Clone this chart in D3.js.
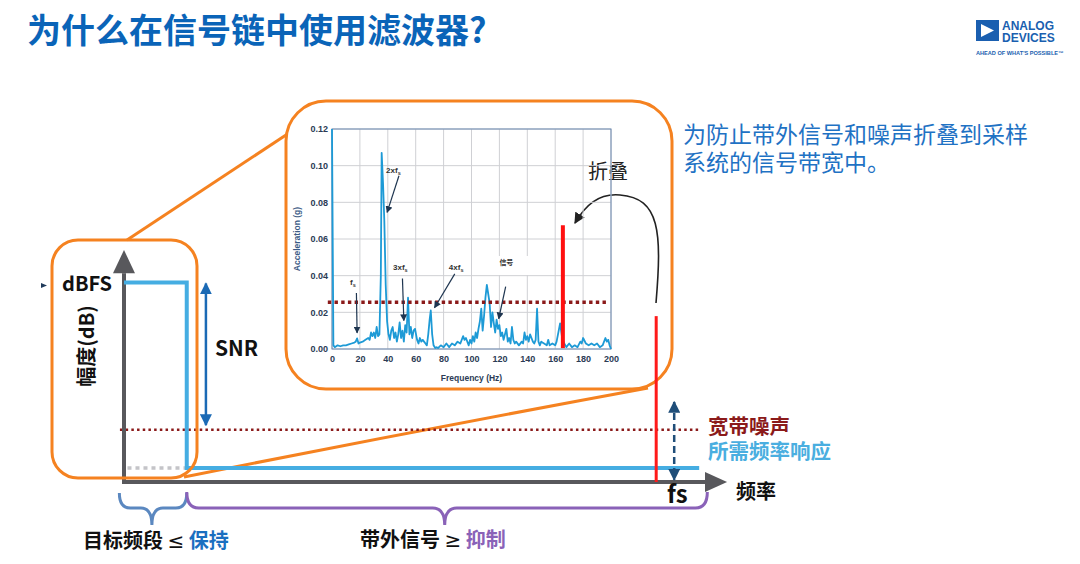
<!DOCTYPE html>
<html>
<head>
<meta charset="utf-8">
<script src="https://cdn.jsdelivr.net/npm/d3@7"></script>
<style>
  body { margin: 0; background: #fff; }
  svg { display: block; font-family: 'Noto Sans CJK SC', 'Noto Sans', sans-serif; }
</style>
</head>
<body>
<script>
// ---- inset spectrum (Acceleration vs Frequency) ----
const freqHz = [
  0, 1, 2, 4, 6, 8, 10, 12, 14, 16,
  17, 18, 19, 20, 22, 24, 26, 27, 28, 29,
  30, 31, 32, 33, 34, 35, 35.6, 36.6, 37.5, 38.5,
  39.5, 40.5, 41.5, 42.5, 43.5, 44.5, 45.5, 46.5, 47.5, 48.5,
  49.5, 50.5, 51.5, 52.5, 53.5, 54.5, 55.5, 56.5, 57.5, 58.5,
  59.5, 61, 62, 63, 64, 65, 66, 67, 68, 69,
  70, 70.8, 71.8, 72.8, 74, 75, 76, 78, 80, 82,
  84, 86, 88, 90, 92, 94, 95, 96, 98, 99,
  100, 101, 102, 103, 104, 105, 106, 107, 108, 109,
  110, 111, 112, 113, 114, 115, 116, 117, 118, 119,
  120, 121, 122, 123, 124, 125, 126, 127, 128, 129,
  130, 131, 132, 134, 136, 137, 138, 139, 140, 141,
  142, 143, 144, 145, 146, 147, 148, 149, 150, 152,
  154, 155, 156, 158, 160, 161, 162, 163.5, 165, 166.5,
  168, 170, 172, 174, 176, 178, 179, 180, 182, 184,
  186, 188, 190, 192, 194, 196, 197, 198, 199, 200
];
const accelG = [
  0.12, 0.002, 0.001, 0.002, 0.0015, 0.002, 0.002, 0.0025, 0.003, 0.0035,
  0.004, 0.0058, 0.003, 0.0035, 0.004, 0.005, 0.006, 0.005, 0.009, 0.007,
  0.009, 0.006, 0.012, 0.007, 0.008, 0.04, 0.107, 0.09, 0.07, 0.035,
  0.015, 0.008, 0.005, 0.01, 0.012, 0.006, 0.009, 0.004, 0.008, 0.0145,
  0.006, 0.01, 0.004, 0.013, 0.009, 0.028, 0.008, 0.012, 0.006, 0.01,
  0.011, 0.005, 0.003, 0.006, 0.004, 0.005, 0.004, 0.003, 0.002, 0.008,
  0.016, 0.021, 0.008, 0.002, 0.0005, 0.001, 0.0005, 0.002, 0.001, 0.003,
  0.001, 0.003, 0.002, 0.004, 0.003, 0.007, 0.005, 0.006, 0.002, 0.005,
  0.003, 0.007, 0.004, 0.009, 0.006, 0.011, 0.015, 0.022, 0.01, 0.018,
  0.028, 0.035, 0.03, 0.025, 0.012, 0.02, 0.014, 0.009, 0.016, 0.011,
  0.013, 0.007, 0.009, 0.005, 0.008, 0.011, 0.004, 0.006, 0.003, 0.012,
  0.005, 0.003, 0.004, 0.002, 0.004, 0.003, 0.009, 0.005, 0.007, 0.004,
  0.008, 0.006, 0.004, 0.003, 0.005, 0.022, 0.004, 0.002, 0.004, 0.003,
  0.002, 0.005, 0.002, 0.003, 0.002, 0.004, 0.008, 0.014, 0.006, 0.003,
  0.001, 0.003, 0.001, 0.002, 0.001, 0.004, 0.003, 0.006, 0.003, 0.002,
  0.003, 0.002, 0.003, 0.001, 0.002, 0.006, 0.004, 0.005, 0.002, 0.0
];
const insetXTicks = [0, 20, 40, 60, 80, 100, 120, 140, 160, 180, 200];
const insetYTicks = [0, 0.02, 0.04, 0.06, 0.08, 0.10, 0.12];
const insetNoise = 0.0255;          // dotted wideband-noise level
const aliasFreq = 165.5;             // folded tone inside the inset
const aliasLevel = 0.0675;
// annotations: label, text position (Hz, g), arrow from -> to (Hz, g)
const insetNotes = [
  { t: 'fs',   sub: true, at: [15, 0.0365], from: [17.5, 0.0305], to: [18, 0.0088] },
  { t: '2xfs', sub: true, at: [44, 0.0975], from: [48, 0.0945], to: [39.5, 0.0745] },
  { t: '3xfs', sub: true, at: [49, 0.0445], from: [50.5, 0.0385], to: [51.5, 0.0155] },
  { t: '4xfs', sub: true, at: [89, 0.0445], from: [88, 0.041], to: [73.5, 0.0225] },
  { t: '信号', sub: false, at: [125, 0.047], from: [124.5, 0.034], to: [119.5, 0.0165] }
];

// ---- schematic (amplitude vs frequency), arbitrary units 0..100 ----
const respX = [0, 10.8, 10.8, 99];   // required frequency response
const respY = [86, 86, 6, 6];
const dbfsLevel = 86;
const noiseLevel = 22.5;
const floorLevel = 6;
const bandEdge = 10.8;
const fsPos = 91.6;
const foldTop = 71.5;
const snrX = 14.1;
const fsArrowX = 94.7;

const W = 1080, H = 564;
const svg = d3.select('body').append('svg').attr('width', W).attr('height', H);
svg.append('rect').attr('width', W).attr('height', H).attr('fill', '#fff');

const defs = svg.append('defs');
const mk = (id, color, size) => {
  defs.append('marker').attr('id', id)
    .attr('viewBox', '0 0 10 10').attr('refX', 9).attr('refY', 5)
    .attr('markerWidth', size).attr('markerHeight', size)
    .attr('orient', 'auto-start-reverse').attr('markerUnits', 'userSpaceOnUse')
    .append('path').attr('d', 'M0,0 L10,5 L0,10 Z').attr('fill', color);
};
mk('ah-snr', '#1b6ab5', 12);
mk('ah-fs', '#1f4e79', 12);
mk('ah-black', '#222', 11);
mk('ah-note', '#1e3550', 7);

// ---------------- title & logo ----------------
svg.append('text').attr('x', 27).attr('y', 31).attr('dy', '0.36em')
  .attr('font-size', 34).attr('font-weight', 700).attr('fill', '#0a64b8')
  .text('为什么在信号链中使用滤波器?');

const logo = svg.append('g');
logo.append('rect').attr('x', 976).attr('y', 20).attr('width', 23).attr('height', 21).attr('fill', '#1a5fb0');
logo.append('path').attr('d', 'M981,24 L981,37 L994,30.5 Z').attr('fill', '#fff');
logo.append('text').attr('x', 1002).attr('y', 29.5).attr('font-family', 'Liberation Sans Narrow, Liberation Sans')
  .attr('font-size', 12).attr('font-weight', 700).attr('fill', '#1a5fb0').text('ANALOG');
logo.append('text').attr('x', 1002).attr('y', 41.5).attr('font-family', 'Liberation Sans Narrow, Liberation Sans')
  .attr('font-size', 12).attr('font-weight', 700).attr('fill', '#1a5fb0').text('DEVICES');
logo.append('text').attr('x', 976).attr('y', 55).attr('font-family', 'Liberation Sans')
  .attr('font-size', 5.6).attr('font-weight', 700).attr('fill', '#1a5fb0').text("AHEAD OF WHAT'S POSSIBLE™");

// ---------------- right-side note ----------------
svg.append('text').attr('x', 683).attr('y', 135).attr('dy', '0.36em')
  .attr('font-size', 23).attr('fill', '#1f72c4').text('为防止带外信号和噪声折叠到采样');
svg.append('text').attr('x', 683).attr('y', 163).attr('dy', '0.36em')
  .attr('font-size', 23).attr('fill', '#1f72c4').text('系统的信号带宽中。');

// ---------------- schematic scales ----------------
const xM = d3.scaleLinear().domain([0, 100]).range([124, 705]);
const yM = d3.scaleLinear().domain([0, 100]).range([482, 250]);

// orange zoom frames and connectors (drawn under the schematic)
svg.append('path').attr('d', `M127,240 L289,133`).attr('stroke', '#f58220').attr('stroke-width', 3).attr('fill', 'none');
svg.append('path').attr('d', `M184,477 Q420,430 648,388`).attr('stroke', '#f58220').attr('stroke-width', 3).attr('fill', 'none');
svg.append('rect').attr('x', 286).attr('y', 101).attr('width', 386).attr('height', 288).attr('rx', 40)
  .attr('fill', '#fff').attr('stroke', '#f58220').attr('stroke-width', 3);

// wideband noise (dotted)
svg.append('line').attr('x1', xM(-0.7)).attr('x2', xM(99)).attr('y1', yM(noiseLevel)).attr('y2', yM(noiseLevel))
  .attr('stroke', '#8b1a1a').attr('stroke-width', 2.6).attr('stroke-dasharray', '2.5 3.2');
// in-band floor (gray dotted)
svg.append('line').attr('x1', xM(0.6)).attr('x2', xM(bandEdge)).attr('y1', yM(floorLevel)).attr('y2', yM(floorLevel))
  .attr('stroke', '#c4c4c8').attr('stroke-width', 3.5).attr('stroke-dasharray', '4 4');

// axes
svg.append('line').attr('x1', xM(0)).attr('x2', xM(0)).attr('y1', yM(0) + 2).attr('y2', yM(90))
  .attr('stroke', '#58585c').attr('stroke-width', 4);
svg.append('path').attr('d', `M${xM(0) - 11},${yM(90)} L${xM(0) + 11},${yM(90)} L${xM(0)},${yM(100)} Z`).attr('fill', '#58585c');
svg.append('line').attr('x1', xM(0) - 2).attr('x2', xM(100)).attr('y1', yM(0)).attr('y2', yM(0))
  .attr('stroke', '#58585c').attr('stroke-width', 4);
svg.append('path').attr('d', `M${xM(100)},${yM(0) - 10} L${xM(100)},${yM(0) + 10} L${xM(103.8)},${yM(0)} Z`).attr('fill', '#58585c');

// required frequency response
svg.append('path')
  .attr('d', d3.line().x((d, i) => xM(respX[i])).y(d => yM(d))(respY))
  .attr('fill', 'none').attr('stroke', '#45ade2').attr('stroke-width', 4);

// small orange frame around the in-band part
svg.append('rect').attr('x', 52).attr('y', 240).attr('width', 145).attr('height', 238).attr('rx', 26)
  .attr('fill', 'none').attr('stroke', '#f58220').attr('stroke-width', 3);

// folded tone at fs
svg.append('line').attr('x1', xM(fsPos)).attr('x2', xM(fsPos)).attr('y1', yM(0)).attr('y2', yM(foldTop))
  .attr('stroke', '#ff1a1a').attr('stroke-width', 3);

// SNR arrow
svg.append('line').attr('x1', xM(snrX)).attr('x2', xM(snrX)).attr('y1', yM(dbfsLevel) + 1).attr('y2', yM(noiseLevel + 2))
  .attr('stroke', '#1b6ab5').attr('stroke-width', 2.5)
  .attr('marker-start', 'url(#ah-snr)').attr('marker-end', 'url(#ah-snr)');
// fs dashed arrow
svg.append('line').attr('x1', xM(fsArrowX)).attr('x2', xM(fsArrowX)).attr('y1', yM(34.5)).attr('y2', yM(1))
  .attr('stroke', '#1f4e79').attr('stroke-width', 2.5).attr('stroke-dasharray', '7 4')
  .attr('marker-start', 'url(#ah-fs)').attr('marker-end', 'url(#ah-fs)');

// braces
const brace = (x1, x2, xm, yTop, yMid, yTip, r) =>
  `M${x1},${yTop} Q${x1},${yMid} ${x1 + r},${yMid} L${xm - r},${yMid} Q${xm},${yMid} ${xm},${yTip}` +
  ` Q${xm},${yMid} ${xm + r},${yMid} L${x2 - r},${yMid} Q${x2},${yMid} ${x2},${yTop}`;
svg.append('path').attr('d', brace(xM(-0.8), xM(bandEdge), xM(4.8), 493, 508, 525, 11))
  .attr('fill', 'none').attr('stroke', '#5b88c0').attr('stroke-width', 3);
svg.append('path').attr('d', brace(xM(bandEdge), xM(100.4), xM(55.2), 492, 508, 525, 12))
  .attr('fill', 'none').attr('stroke', '#8a62b8').attr('stroke-width', 3);

// schematic labels
const lbl = (x, y, txt, size, color, weight) =>
  svg.append('text').attr('x', x).attr('y', y).attr('dy', '0.36em')
    .attr('font-size', size).attr('font-weight', weight || 700).attr('fill', color || '#111').text(txt);
lbl(62, 284, 'dBFS', 20);
svg.append('path').attr('d', 'M41,283 L47,285.5 L41,288 Z').attr('fill', '#1f3a5a');
svg.append('text').attr('transform', 'translate(87,346) rotate(-90)').attr('text-anchor', 'middle').attr('dy', '0.36em')
  .attr('font-size', 20).attr('font-weight', 700).attr('fill', '#111').text('幅度(dB)');
lbl(215, 348, 'SNR', 21);
lbl(708, 427, '宽带噪声', 20.5, '#8b1a1a');
lbl(708, 452, '所需频率响应', 20.5, '#4aaee0');
lbl(667, 494, 'fs', 24);
lbl(736, 492, '频率', 20);
lbl(588, 172, '折叠', 20, '#222', 400);

const t1 = lbl(83, 541, '目标频段 ', 20);
t1.append('tspan').attr('font-family', 'DejaVu Sans').attr('font-weight', 400).text('≤');
t1.append('tspan').attr('fill', '#1a6fc0').text(' 保持');
const t2 = lbl(360, 540, '带外信号 ', 20);
t2.append('tspan').attr('font-family', 'DejaVu Sans').attr('font-weight', 400).text('≥');
t2.append('tspan').attr('fill', '#8a62b8').text(' 抑制');

// fold arrow
svg.append('path').attr('d', 'M656,303 C662,232 660,198 620,195 C598,193 585,206 575,223')
  .attr('fill', 'none').attr('stroke', '#222').attr('stroke-width', 1.6).attr('marker-end', 'url(#ah-black)');

// ---------------- inset spectrum ----------------
const xI = d3.scaleLinear().domain([0, 200]).range([332, 611]);
const yI = d3.scaleLinear().domain([0, 0.12]).range([349, 129]);
const inset = svg.append('g');

inset.append('g').selectAll('line').data(insetXTicks).join('line')
  .attr('x1', d => xI(d)).attr('x2', d => xI(d)).attr('y1', yI(0)).attr('y2', yI(0.12))
  .attr('stroke', '#cfd0d4').attr('stroke-width', 1);
inset.append('g').selectAll('line').data(insetYTicks).join('line')
  .attr('x1', xI(0)).attr('x2', xI(200)).attr('y1', d => yI(d)).attr('y2', d => yI(d))
  .attr('stroke', '#cfd0d4').attr('stroke-width', 1);
inset.append('rect').attr('x', xI(0)).attr('y', yI(0.12)).attr('width', xI(200) - xI(0)).attr('height', yI(0) - yI(0.12))
  .attr('fill', 'none').attr('stroke', '#6a88b0').attr('stroke-width', 1);

const axisStyle = g => {
  g.select('.domain').remove();
  g.selectAll('text').attr('font-family', 'Liberation Sans, Arial').attr('font-weight', 700)
    .attr('font-size', 9).attr('fill', '#2b3b55');
};
inset.append('g').attr('transform', `translate(${xI(0)},0)`)
  .call(d3.axisLeft(yI).tickValues(insetYTicks).tickFormat(d3.format('.2f')).tickSize(0).tickPadding(4))
  .call(axisStyle);
inset.append('g').attr('transform', `translate(0,${yI(0)})`)
  .call(d3.axisBottom(xI).tickValues(insetXTicks).tickSize(0).tickPadding(7))
  .call(axisStyle);
inset.append('text').attr('transform', `translate(297,${(yI(0) + yI(0.12)) / 2}) rotate(-90)`)
  .attr('text-anchor', 'middle').attr('dy', '0.35em').attr('font-family', 'Liberation Sans, Arial')
  .attr('font-size', 8.5).attr('font-weight', 700).attr('fill', '#3b5b85').text('Acceleration (g)');
inset.append('text').attr('x', (xI(0) + xI(200)) / 2).attr('y', 378).attr('text-anchor', 'middle').attr('dy', '0.35em')
  .attr('font-family', 'Liberation Sans, Arial').attr('font-size', 8.5).attr('font-weight', 700)
  .attr('fill', '#2b3b55').text('Frequency (Hz)');

// white patch behind the 信号 note
inset.append('rect').attr('x', 498).attr('y', 256).attr('width', 30).attr('height', 19).attr('fill', '#fff');

inset.append('path')
  .attr('d', d3.line().x((d, i) => xI(freqHz[i])).y(d => yI(d))(accelG))
  .attr('fill', 'none').attr('stroke', '#1d9ad6').attr('stroke-width', 1.8).attr('stroke-linejoin', 'round');

inset.append('line').attr('x1', xI(-3)).attr('x2', xI(198)).attr('y1', yI(insetNoise)).attr('y2', yI(insetNoise))
  .attr('stroke', '#8b1a1a').attr('stroke-width', 3.4).attr('stroke-dasharray', '3.4 3.3');
inset.append('line').attr('x1', xI(aliasFreq)).attr('x2', xI(aliasFreq)).attr('y1', yI(0.0005)).attr('y2', yI(aliasLevel))
  .attr('stroke', '#ff1010').attr('stroke-width', 4);

insetNotes.forEach(n => {
  const tx = inset.append('text').attr('x', xI(n.at[0])).attr('y', yI(n.at[1])).attr('text-anchor', 'middle')
    .attr('dy', '0.35em').attr('font-family', 'Liberation Sans, Arial').attr('font-size', 8)
    .attr('font-weight', 700).attr('fill', '#333');
  if (n.sub) {
    tx.append('tspan').text(n.t.slice(0, -1));
    tx.append('tspan').attr('font-size', 5.5).attr('dy', 2).text(n.t.slice(-1));
  } else {
    tx.attr('font-family', 'Noto Sans CJK SC').attr('font-size', 7).text(n.t);
  }
  inset.append('line').attr('x1', xI(n.from[0])).attr('y1', yI(n.from[1]))
    .attr('x2', xI(n.to[0])).attr('y2', yI(n.to[1]))
    .attr('stroke', '#1e3550').attr('stroke-width', 1.2).attr('marker-end', 'url(#ah-note)');
});
</script>
</body>
</html>
